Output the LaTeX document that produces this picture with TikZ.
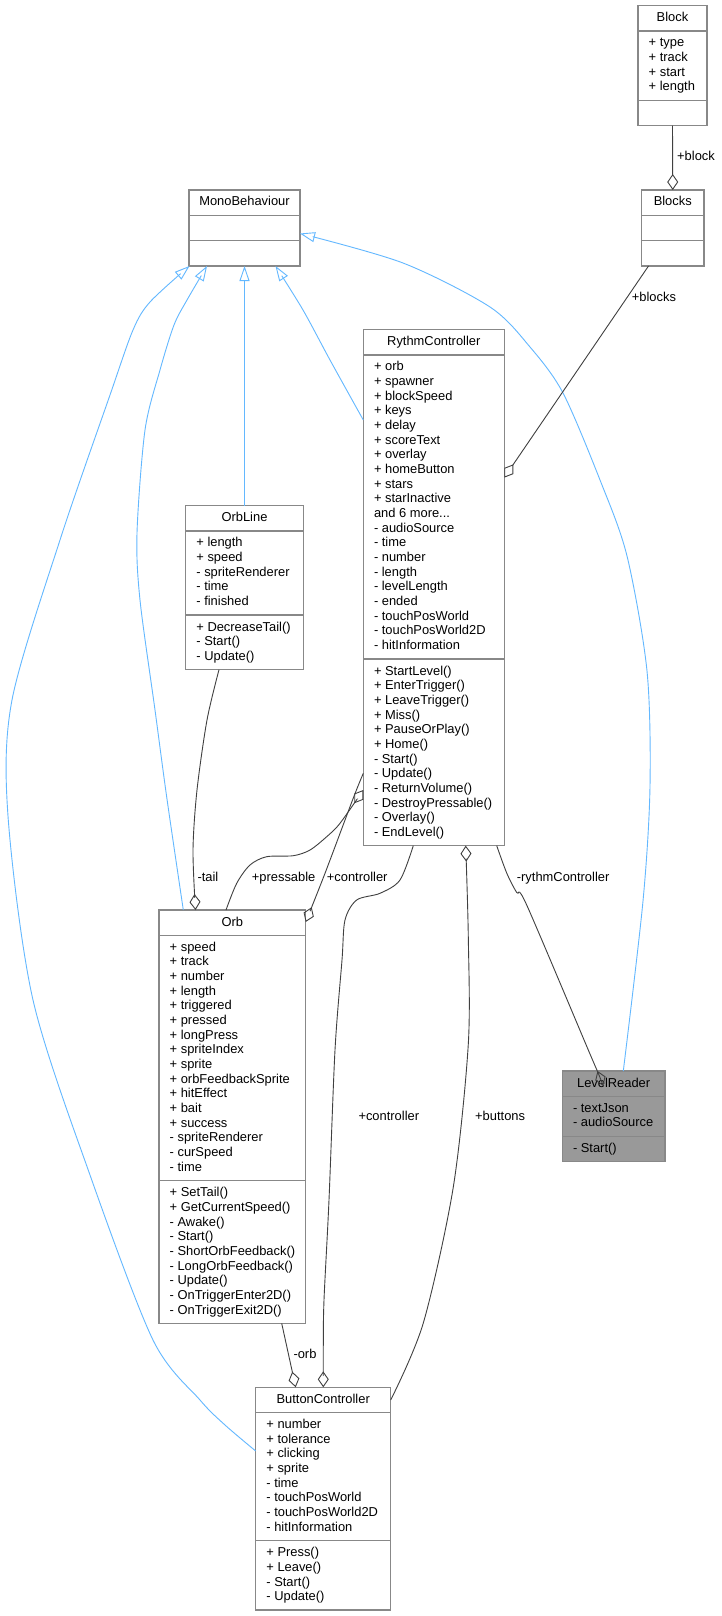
\documentclass[tikz,border=0pt]{standalone}
\usepackage{fontspec}
\setmainfont{Liberation Sans}
\usetikzlibrary{arrows.meta,calc}
\definecolor{boxgray}{HTML}{888888}
\definecolor{edgegray}{HTML}{404040}
\definecolor{inhblue}{HTML}{63B8FF}
\definecolor{lrgray}{HTML}{999999}
\newcommand\fs{\fontsize{12.9}{14.667}\selectfont}
\def\boxfill{white}
\newcommand\umlbox[9]{%
  \pgfmathsetmacro\bw{#4-#2}%
  \pgfmathsetmacro\hA{#6*14.667+10.667}%
  \pgfmathsetmacro\hM{#8*14.667+10.667}%
  \pgfmathsetmacro\bh{25.333+\hA+\hM}%
  \pgfmathsetmacro\dM{25.333+\hA}%
  \pgfmathsetmacro\tM{\dM+5.73}%
  \node[cls, minimum width=\bw pt, minimum height=\bh pt] (#1) at (#2,#3) {};
  \draw[divline] ($(#1.north west)+(0,25.333)$) -- ($(#1.north east)+(0,25.333)$);
  \draw[divline] ($(#1.north west)+(0,\dM)$) -- ($(#1.north east)+(0,\dM)$);
  \node[ttl] (#1-title) at ($(#1.north)+(0,16)$) {#5};
  \node[txt] (#1-attrs) at ($(#1.north west)+(10.5,30.73)$) {\strut #7};
  \node[txt] (#1-ops) at ($(#1.north west)+(10.5,\tM)$) {\strut #9};
}
\begin{document}
\begin{tikzpicture}[x=1pt,y=-1pt,
  cls/.style={draw=boxgray, line width=1.3pt, fill=\boxfill, inner sep=0, outer sep=0, anchor=north west, rectangle},
  divline/.style={draw=boxgray, line width=1.3pt},
  txt/.style={inner sep=0, anchor=north west, align=left, font=\fs},
  ttl/.style={inner sep=0, anchor=base, font=\fs},
  lbl/.style={inner sep=0, anchor=base west, font=\fs},
  agg/.style={draw=edgegray, line width=0.9pt, -{Diamond[open,length=16pt,width=11pt]}},
  inh/.style={draw=inhblue, line width=0.9pt, -{Triangle[open,length=15pt,width=10pt]}},
]
\fill[white] (0,0) rectangle (722,1616);
\useasboundingbox (0,0) rectangle (722,1616);

\umlbox{block}{638}{5.7}{707}{Block}{4}{+ type\\+ track\\+ start\\+ length}{1}{}
\umlbox{blocks}{641.5}{190}{704}{Blocks}{1}{}{1}{}
\umlbox{mono}{189}{190}{300}{MonoBehaviour}{1}{}{1}{}
\umlbox{rc}{363.3}{329.6}{504.3}{RythmController}{20}{+ orb\\+ spawner\\+ blockSpeed\\+ keys\\+ delay\\+ scoreText\\+ overlay\\+ homeButton\\+ stars\\+ starInactive\\and 6 more...\\- audioSource\\- time\\- number\\- length\\- levelLength\\- ended\\- touchPosWorld\\- touchPosWorld2D\\- hitInformation}{12}{+ StartLevel()\\+ EnterTrigger()\\+ LeaveTrigger()\\+ Miss()\\+ PauseOrPlay()\\+ Home()\\- Start()\\- Update()\\- ReturnVolume()\\- DestroyPressable()\\- Overlay()\\- EndLevel()}
\umlbox{orbline}{185.7}{505.7}{303.3}{OrbLine}{5}{+ length\\+ speed\\- spriteRenderer\\- time\\- finished}{3}{+ DecreaseTail()\\- Start()\\- Update()}
\umlbox{orb}{159}{910}{305.7}{Orb}{16}{+ speed\\+ track\\+ number\\+ length\\+ triggered\\+ pressed\\+ longPress\\+ spriteIndex\\+ sprite\\+ orbFeedbackSprite\\+ hitEffect\\+ bait\\+ success\\- spriteRenderer\\- curSpeed\\- time}{9}{+ SetTail()\\+ GetCurrentSpeed()\\- Awake()\\- Start()\\- ShortOrbFeedback()\\- LongOrbFeedback()\\- Update()\\- OnTriggerEnter2D()\\- OnTriggerExit2D()}
\umlbox{bc}{255.7}{1387.3}{390.7}{ButtonController}{8}{+ number\\+ tolerance\\+ clicking\\+ sprite\\- time\\- touchPosWorld\\- touchPosWorld2D\\- hitInformation}{4}{+ Press()\\+ Leave()\\- Start()\\- Update()}
\def\boxfill{lrgray}
\umlbox{lr}{562.3}{1071}{665}{LevelReader}{2}{- textJson\\- audioSource}{1}{- Start()}
\def\boxfill{white}

% endpoints
\coordinate (orb-inh) at ($(orb.north west)+(24.3,0)$);
\coordinate (mono-orb) at ($(mono.south west)+(18,0)$);
\coordinate (bc-inh) at ($(bc.north west)+(0,63.7)$);
\coordinate (mono-bc) at ($(mono.south west)+(0.5,0)$);
\coordinate (lr-inh) at ($(lr.north west)+(61,0)$);
\coordinate (mono-lr) at ($(mono.north east)+(0,43.5)$);
\coordinate (rc-inh) at ($(rc.north west)+(0,90.4)$);
\coordinate (mono-rc) at ($(mono.south west)+(86.5,0)$);
\coordinate (orbline-tail) at ($(orbline.south west)+(33.3,0)$);
\coordinate (orb-tail) at ($(orb.north west)+(36.5,0)$);
\coordinate (orb-press) at ($(orb.north west)+(67,0)$);
\coordinate (rc-press) at ($(rc.north west)+(0,460.4)$);
\coordinate (rc-ctrl) at ($(rc.north west)+(0,443.7)$);
\coordinate (orb-ctrl) at ($(orb.north east)+(0,12)$);
\coordinate (rc-bcc) at ($(rc.south west)+(50,0)$);
\coordinate (bc-ctrl) at ($(bc.north west)+(67.6,0)$);
\coordinate (bc-btn) at ($(bc.north east)+(0,12.7)$);
\coordinate (rc-btn) at ($(rc.south west)+(102.4,0)$);
\coordinate (rc-lr) at ($(rc.south west)+(133.4,0)$);
\coordinate (lr-rc) at ($(lr.north west)+(35.2,0)$);
\coordinate (orb-orb) at ($(orb.south west)+(122.7,0)$);
\coordinate (bc-orb) at ($(bc.north west)+(40,0)$);
\coordinate (blocks-rc) at ($(blocks.south west)+(7,0)$);
\coordinate (rc-blocks) at ($(rc.north east)+(0,148)$);

% inheritance
\draw[inh] (orbline.north) -- (mono.south);
\draw[inh] plot[smooth,tension=0.5] coordinates {(rc-inh) (330,360) (303,310) (mono-rc)};
\draw[inh] plot[smooth,tension=0.5] coordinates {(orb-inh) (166.7,797) (155,710) (140,600) (137,533) (145,430) (160,370) (174,325) (187,300) (mono-orb)};
\draw[inh] plot[smooth,tension=0.5] coordinates {(bc-inh) (225,1425) (200,1400) (153,1340) (90,1175) (33,1000) (8,816) (12,700) (60,540) (110,395) (133,330) (150,302) (mono-bc)};
\draw[inh] plot[smooth,tension=0.5] coordinates {(lr-inh) (643,901) (650,786) (647,671) (627,556) (600,480) (563,393) (530,347) (490,307) (403,263) (mono-lr)};

% aggregation
\draw[agg] (block.south) -- (blocks.north);
\draw[agg] (blocks-rc) -- (rc-blocks);
\draw[agg] plot[smooth,tension=0.5] coordinates {(orbline-tail) (207,720) (197,790) (193,850) (orb-tail)};
\draw[agg] plot[smooth,tension=0.5] coordinates {(orb-press) (236.7,883.3) (250,865) (266.7,856.7) (293.3,855.7) (310,850) (326.7,836.7) (340,823.3) (rc-press)};
\draw[agg] plot[smooth,tension=0.5] coordinates {(rc-ctrl) (353.3,798) (325,873.3) (orb-ctrl)};
\draw[agg] plot[smooth,tension=0.5] coordinates {(rc-bcc) (400,880) (380,893.3) (356.7,900) (345,920) (342,960) (335,1050) (329,1200) (324,1300) (323.3,1345) (bc-ctrl)};
\draw[agg] plot[smooth,tension=0.5] coordinates {(bc-btn) (423.3,1323) (453.3,1187) (468.3,1044) (468.3,937) (rc-btn)};
\draw[agg] plot[smooth,tension=0.5] coordinates {(rc-lr) (506.7,873) (516.7,892.5) (526.7,905) (590,1054) (lr-rc)};
\draw[agg] (orb-orb) -- (bc-orb);

% labels
\node[lbl] (l-block) at (677,161) {+block};
\node[lbl] (l-blocks) at (631.7,301) {+blocks};
\node[lbl] (l-tail) at (197.3,881) {-tail};
\node[lbl] (l-press) at (251.7,881) {+pressable};
\node[lbl] (l-ctrl1) at (326.7,881) {+controller};
\node[lbl] (l-rythm) at (516.7,881) {-rythmController};
\node[lbl] (l-ctrl2) at (358.3,1120) {+controller};
\node[lbl] (l-btn) at (475,1120) {+buttons};
\node[lbl] (l-orb) at (293.3,1358.8) {-orb};
\end{tikzpicture}
\end{document}
